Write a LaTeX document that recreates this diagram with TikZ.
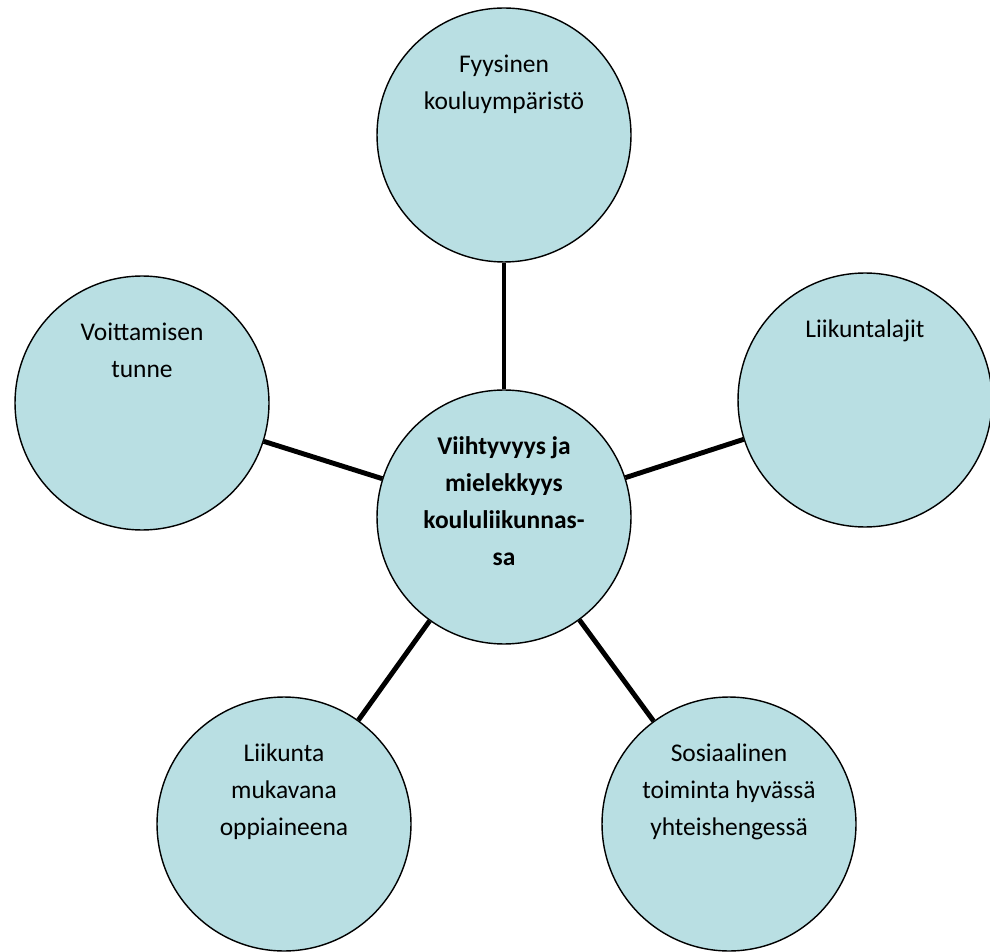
\documentclass[tikz,border=0pt]{standalone}
\usepackage{fontspec}
\setmainfont{Carlito}
\definecolor{bubblefill}{RGB}{185,223,227}

\begin{document}
\begin{tikzpicture}
  [x=0.02cm,y=-0.02cm,
   bubble/.style={circle,draw,line width=0.8pt,fill=bubblefill,minimum size=5.08cm,inner sep=0pt},
   txt/.style={anchor=north,inner sep=0pt,yshift=-27pt,align=center,font=\fontsize{14.5}{21}\selectfont},
   txtbold/.style={txt,font=\fontsize{14.5}{21}\bfseries\selectfont},
   link/.style={line width=2.8pt}]
  \useasboundingbox (0,0) rectangle (990,952);
  \node[bubble,label={[txtbold]north:Viihtyvyys ja\\mielekkyys\\koululiikunnas-\\sa}] (keski) at (504,517) {};
  \node[bubble,label={[txt]north:Fyysinen\\kouluympäristö}] (fyys) at (504,135) {};
  \node[bubble,label={[txt]north:Liikuntalajit}] (lajit) at (865,400) {};
  \node[bubble,label={[txt]north:Sosiaalinen\\toiminta hyvässä\\yhteishengessä}] (sos) at (729,824) {};
  \node[bubble,label={[txt]north:Liikunta\\mukavana\\oppiaineena}] (oppi) at (284,824) {};
  \node[bubble,label={[txt]north:Voittamisen\\tunne}] (voitto) at (142,403) {};
  \foreach \dest in {fyys,lajit,sos,oppi,voitto}
    \draw[link] (keski) -- (\dest);
\end{tikzpicture}
\end{document}
